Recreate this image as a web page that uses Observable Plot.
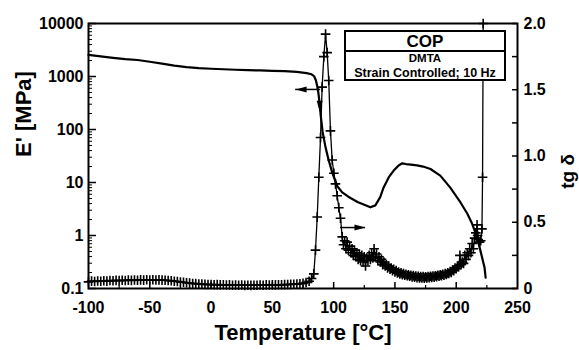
<!DOCTYPE html>
<html>
<head>
<meta charset="utf-8">
<script src="https://cdn.jsdelivr.net/npm/d3@7"></script>
<script src="https://cdn.jsdelivr.net/npm/@observablehq/plot@0.6"></script>
<style>
  body { margin: 0; background: #fff; }
  #wrap { position: relative; width: 579px; height: 350px; background: #fff; }
  #legend { position: absolute; left: 344px; top: 30px; width: 162px; height: 51px; box-sizing: border-box;
    border: 2px solid #000; background: #fff; font-family: 'Liberation Sans', Arial, sans-serif; font-weight: bold; text-align: center; color: #000; }
  #legend .t1 { height: 18px; line-height: 20px; font-size: 17px; border-bottom: 2px solid #000; }
  #legend .t2 { font-size: 11.5px; line-height: 11px; margin-top: 1px; }
  #legend .t3 { font-size: 12.5px; line-height: 14px; margin-top: 2px; white-space: nowrap; }
</style>
</head>
<body>
<div id="wrap"></div>
<script>
// ---------- Data ----------
// Storage modulus E' [MPa] vs temperature [°C]
const eTemp = [-100,-90,-80,-70,-60,-50,-40,-30,-20,-10,0,10,20,30,40,50,60,70,78,82,84,85.5,86.5,87.5,88.5,89.5,91,93.4,96,99,103,107,112,119.5,125,130,134,138,140.7,145,149,153,156,159,163,168,173,179,187,195,203.5,209,213,217,220.4,223.1,224];
const eMod  = [2550,2400,2250,2130,2050,1900,1750,1600,1500,1440,1400,1370,1340,1320,1300,1280,1260,1220,1160,1100,1020,850,680,500,320,180,90,46,26,15,8.5,6.5,5.4,4.3,3.8,3.4,3.7,5.3,8,12.6,16.8,21,23,22.3,21.8,21,20,18,13.5,8.1,4.2,2.6,1.66,0.93,0.45,0.25,0.16];

// Loss factor tg delta vs temperature [°C]
const tTemp = [
  -100,-97.5,-95,-92.5,-90,-87.5,-85,-82.5,-80,-77.5,-75,-72.5,-70,-67.5,-65,-62.5,-60,-57.5,-55,-52.5,-50,-47.5,-45,-42.5,-40,-37.5,-35,-32.5,-30,-27.5,-25,-22.5,-20,-17.5,-15,-12.5,-10,-7.5,-5,-2.5,
  0,2.5,5,7.5,10,12.5,15,17.5,20,22.5,25,27.5,30,32.5,35,37.5,40,42.5,45,47.5,50,52.5,55,57.5,60,62.5,65,67.5,70,72.5,75,77.5,80,82,
  83.8,85.2,86.6,87.9,89.3,90.6,92,93.4,94.7,96,97.4,98.8,100.2,101.5,102.9,104.2,105.6,107,
  108,109,110,111,112,113,114,115,116,117,118,119,120,121,122,123,124,125,126,127,128,129,130,131,132,133,134,135,136,137,138,139,140,
  141,142,143,144,145,146,147,148,149,150,151,152,153,154,155,156,157,158,159,160,161,162,163,164,165,166,167,168,169,170,
  171,172,173,174,175,176,177,178,179,180,181,182,183,184,185,186,187,188,189,190,191,192,193,194,195,196,197,198,199,200,
  201,202,203,204,205,206,207,208,209,210,211,212,213,214,215,216,217,217.5,218,219,220,221,221.5,222];
const tanD = [
  0.050,0.056,0.053,0.057,0.055,0.058,0.056,0.060,0.058,0.061,0.059,0.062,0.060,0.063,0.061,0.064,0.062,0.065,0.063,0.066,0.064,0.066,0.064,0.065,0.063,0.062,0.060,0.058,0.055,0.053,0.049,0.047,0.043,0.041,0.038,0.037,0.034,0.033,0.031,0.030,
  0.030,0.028,0.029,0.027,0.028,0.026,0.027,0.025,0.026,0.025,0.026,0.024,0.025,0.024,0.025,0.025,0.026,0.025,0.027,0.026,0.027,0.027,0.028,0.028,0.029,0.030,0.031,0.032,0.034,0.036,0.039,0.045,0.055,0.075,
  0.11,0.29,0.54,0.84,1.14,1.52,1.75,1.92,1.78,1.57,1.19,0.97,0.87,0.79,0.70,0.61,0.53,0.39,
  0.33,0.36,0.30,0.35,0.29,0.32,0.27,0.30,0.25,0.29,0.24,0.27,0.22,0.26,0.21,0.25,0.20,0.24,0.17,0.23,0.21,0.25,0.22,0.27,0.23,0.30,0.24,0.26,0.21,0.24,0.20,0.22,0.18,
  0.20,0.17,0.18,0.155,0.17,0.145,0.155,0.135,0.145,0.125,0.135,0.118,0.125,0.11,0.118,0.105,0.113,0.10,0.108,0.096,0.104,0.092,0.10,0.088,0.097,0.085,0.094,0.082,0.092,0.08,
  0.09,0.08,0.09,0.078,0.089,0.08,0.09,0.082,0.092,0.084,0.094,0.086,0.096,0.09,0.10,0.093,0.103,0.097,0.108,0.10,0.112,0.106,0.118,0.113,0.127,0.122,0.14,0.135,0.155,0.15,
  0.17,0.165,0.25,0.18,0.20,0.19,0.25,0.22,0.27,0.25,0.30,0.27,0.34,0.30,0.38,0.42,0.48,0.40,0.37,0.35,0.36,0.45,0.84,2.0];

// Axis ticks
const xTicks = [-100,-50,0,50,100,150,200,250];
const xMinorTicks = [-75,-25,25,75,125,175,225];
const eTicks = [0.1,1,10,100,1000,10000];
const tanTicks = [0,0.5,1,1.5,2];
const tanMinorTicks = [0.25,0.75,1.25,1.75];

// Annotation arrows: left arrow (points to E' axis), right arrow (points to tg delta axis)
const arrowLeft  = {from: 89.4, to: 69, e: 570};
const arrowRight = {from: 105.6, to: 126, tan: 0.46};
const arrowDown  = {t: 88.6, e: 280};

// Labels
const xLabel = "Temperature [°C]";
const yLabel = "E' [MPa]";
const y2Label = "tg δ";

// ---------- Helpers ----------
// map tg delta (linear 0..2) onto the shared log scale (0.1..10000)
const tanToE = t => Math.pow(10, t * 2.5 - 1);

const eData = eTemp.map((t, i) => ({t, v: eMod[i]}));
const tData = tTemp.map((t, i) => ({t, v: tanD[i]}));
const eMinorTicks = [];
for (let d = 0.1; d < 10000; d *= 10) for (let k = 2; k <= 9; k++) eMinorTicks.push(+(d * k).toPrecision(3));

const head = { draw(ctx) { ctx.moveTo(0, -6); ctx.lineTo(3, 5); ctx.lineTo(-3, 5); ctx.closePath(); } };

const PW = 579 - 88 - 62, PH = 350 - 23 - 62;

const chart = Plot.plot({
  width: 579, height: 350,
  marginLeft: 88, marginRight: 62, marginTop: 23, marginBottom: 62,
  x: {domain: [-100, 250]},
  y: {type: "log", domain: [0.1, 10000]},
  style: {fontFamily: "'Liberation Sans', Arial, sans-serif", fontWeight: "bold", fontSize: "16px", background: "white", color: "black", overflow: "visible"},
  marks: [
    // ticks (inward)
    Plot.tickX(xTicks.slice(1, -1), {x: d => d, insetTop: PH - 6, strokeWidth: 1.5}),
    Plot.tickX(xMinorTicks, {x: d => d, insetTop: PH - 3, strokeWidth: 1.2}),
    Plot.tickY(eTicks, {y: d => d, insetRight: PW - 8, strokeWidth: 1.5}),
    Plot.tickY(eMinorTicks, {y: d => d, insetRight: PW - 4, strokeWidth: 1}),
    Plot.tickY(tanTicks.concat(tanMinorTicks), {y: d => tanToE(d), insetLeft: PW - 5, strokeWidth: 1.5}),
    // tick labels
    Plot.axisX(xTicks, {anchor: "bottom", tickSize: 0, tickPadding: 13, tickFormat: d => String(d), label: null, fontSize: 16}),
    Plot.axisY(eTicks, {anchor: "left", tickSize: 0, tickPadding: 5, tickFormat: d => String(d), label: null, fontSize: 16}),
    Plot.text(tanTicks, {y: d => tanToE(d), frameAnchor: "right", textAnchor: "start", dx: 6,
      text: d => d === 0 ? "0" : d.toFixed(1), fontSize: 16, fontWeight: "bold"}),
    // data
    Plot.line(eData, {x: "t", y: "v", strokeWidth: 2.2, stroke: "black"}),
    Plot.line(tData, {x: "t", y: d => tanToE(d.v), strokeWidth: 1.3, stroke: "black"}),
    Plot.dot(tData, {x: "t", y: d => tanToE(d.v), symbol: "plus", r: 3.2, stroke: "black", strokeWidth: 1.6}),
    // arrows
    Plot.ruleY([arrowLeft], {y: "e", x1: "from", x2: "to", strokeWidth: 1.5}),
    Plot.dot([arrowLeft], {x: "to", y: "e", symbol: head, rotate: -90, dx: 6, fill: "black", stroke: "none"}),
    Plot.ruleY([arrowRight], {y: d => tanToE(d.tan), x1: "from", x2: "to", strokeWidth: 1.5}),
    Plot.dot([arrowRight], {x: "to", y: d => tanToE(d.tan), symbol: head, rotate: 90, dx: -6, fill: "black", stroke: "none"}),
    Plot.dot([arrowDown], {x: "t", y: "e", symbol: head, rotate: 180, fill: "black", stroke: "none"}),
    // frame
    Plot.frame({strokeWidth: 2}),
    // titles
    Plot.text([xLabel], {text: d => d, frameAnchor: "bottom", dy: 51, fontSize: 22, fontWeight: "bold"}),
    Plot.text([yLabel], {text: d => d, frameAnchor: "left", dx: -65, dy: 1, rotate: -90, fontSize: 22, fontWeight: "bold"}),
    Plot.text([y2Label], {text: d => d, frameAnchor: "right", dx: 50, dy: -2, rotate: -90, fontSize: 19, fontWeight: "bold"})
  ]
});

const wrap = document.getElementById("wrap");
wrap.appendChild(chart);
const legend = document.createElement("div");
legend.id = "legend";
legend.innerHTML = '<div class="t1">COP</div><div class="t2">DMTA</div><div class="t3">Strain Controlled; 10 Hz</div>';
wrap.appendChild(legend);
</script>
</body>
</html>
